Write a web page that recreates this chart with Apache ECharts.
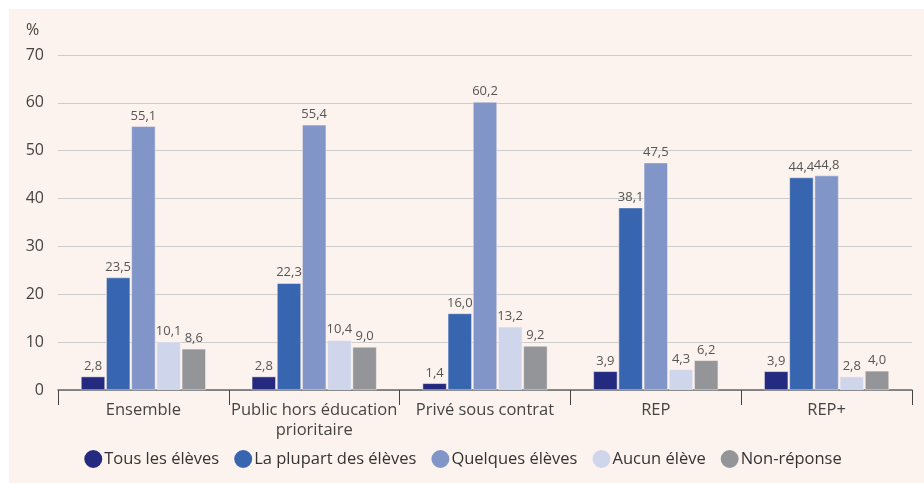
<!DOCTYPE html>
<html><head><meta charset="utf-8">
<script src="https://cdn.jsdelivr.net/npm/echarts@6/dist/echarts.min.js"></script>
<style>html,body{margin:0;padding:0;background:#fff;}#c{width:924px;height:483px;}</style>
</head><body><div id="c"></div>
<script>
const categories = ['Ensemble', 'Public hors éducation\nprioritaire', 'Privé sous contrat', 'REP', 'REP+'];
const seriesNames = ['Tous les élèves', 'La plupart des élèves', 'Quelques élèves', 'Aucun élève', 'Non-réponse'];
const tousLesEleves = [2.8, 2.8, 1.4, 3.9, 3.9];
const laPlupart = [23.5, 22.3, 16.0, 38.1, 44.4];
const quelques = [55.1, 55.4, 60.2, 47.5, 44.8];
const aucun = [10.1, 10.4, 13.2, 4.3, 2.8];
const nonReponse = [8.6, 9.0, 9.2, 6.2, 4.0];
const yTicks = [0, 10, 20, 30, 40, 50, 60, 70];

const values = [tousLesEleves, laPlupart, quelques, aucun, nonReponse];
const colors = ['#232a7f', '#3765b0', '#8195c9', '#cfd5ea', '#939598'];
const font = '"Open Sans", sans-serif';

const chart = echarts.init(document.getElementById('c'));
chart.setOption({
  animation: false,
  graphic: [{type: 'rect', left: 9, top: 9, z: -10, shape: {width: 915, height: 474}, style: {fill: '#fdf3ee'}},
            {type: 'text', left: 26, top: 22, style: {text: '%', font: '16px ' + font, fill: '#444'}}],
  grid: {left: 58, right: 12, top: 55, bottom: 93},
  legend: {
    bottom: 8, left: 'center', icon: 'circle', itemWidth: 20, itemHeight: 20, itemGap: 13,
    textStyle: {fontFamily: font, fontSize: 16.5, color: '#333', padding: [0, 0, 0, -4]},
    data: seriesNames
  },
  xAxis: {
    type: 'category', data: categories,
    axisLine: {lineStyle: {color: '#666', width: 1.5}},
    axisTick: {show: true, interval: 0, length: 15, lineStyle: {color: '#444'}},
    axisLabel: {interval: 0, fontFamily: font, fontSize: 16.5, color: '#444', margin: 10, lineHeight: 20}
  },
  yAxis: {
    type: 'value', min: 0, max: 70, interval: 10,
    axisLine: {show: false}, axisTick: {show: false},
    splitLine: {lineStyle: {color: '#cccccc', width: 1.2}},
    axisLabel: {fontFamily: font, fontSize: 16, color: '#444', margin: 14,
      formatter: v => yTicks.includes(v) ? String(v) : ''}
  },
  series: seriesNames.map((n, i) => ({
    name: n, type: 'bar', data: values[i], barWidth: 24, barGap: '5%',
    itemStyle: {color: colors[i], borderColor: '#fdf3ee', borderWidth: 0.5},
    label: {show: true, position: 'top', distance: 4, fontFamily: font, fontSize: 13, color: '#555',
      formatter: p => p.value.toFixed(1).replace('.', ',')}
  }))
});
</script></body></html>
